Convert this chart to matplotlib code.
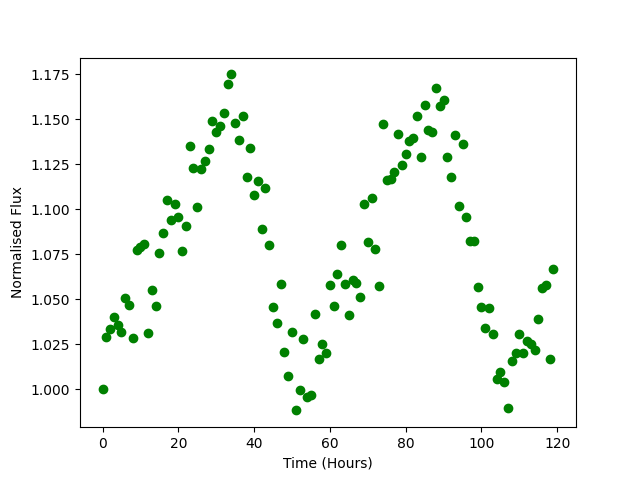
import numpy as np
import matplotlib
matplotlib.use("Agg")
import matplotlib.pyplot as plt

time_hours = list(range(120))
flux = [
    1.000, 1.0289, 1.0333, 1.0398, 1.0356, 1.0317, 1.0506, 1.0465, 1.0283, 1.0774,
    1.0789, 1.0807, 1.0310, 1.0550, 1.0460, 1.0754, 1.0867, 1.1050, 1.0940, 1.1026,
    1.0956, 1.0770, 1.0906, 1.1350, 1.1226, 1.1011, 1.1220, 1.1267, 1.1332, 1.1489,
    1.1426, 1.1460, 1.1531, 1.1693, 1.1748, 1.1476, 1.1381, 1.1515, 1.1176, 1.1340,
    1.1076, 1.1154, 1.0887, 1.1115, 1.0798, 1.0454, 1.0370, 1.0582, 1.0207, 1.0072,
    1.0315, 0.9882, 0.9998, 1.0278, 0.9957, 0.9970, 1.0415, 1.0170, 1.0250, 1.0198,
    1.0576, 1.0460, 1.0639, 1.0798, 1.0582, 1.0410, 1.0604, 1.0587, 1.0509, 1.1031,
    1.0815, 1.1060, 1.0776, 1.0571, 1.1470, 1.1160, 1.1165, 1.1204, 1.1415, 1.1243,
    1.1304, 1.1376, 1.1393, 1.1515, 1.1287, 1.1576, 1.1440, 1.1430, 1.1670, 1.1570,
    1.1606, 1.1287, 1.1176, 1.1409, 1.1015, 1.1360, 1.0954, 1.0821, 1.0821, 1.0565,
    1.0454, 1.0337, 1.0448, 1.0304, 1.0059, 1.0096, 1.0037, 0.9893, 1.0154, 1.0198,
    1.0304, 1.0198, 1.0270, 1.0248, 1.0215, 1.0387, 1.0559, 1.0576, 1.0165, 1.0670,
]

fig, ax = plt.subplots(figsize=(6.4, 4.8), dpi=100)
ax.plot(time_hours, flux, 'o', color='green')
ax.set_xlabel('Time (Hours)')
ax.set_ylabel('Normalised Flux')
fig.savefig('out.png')
